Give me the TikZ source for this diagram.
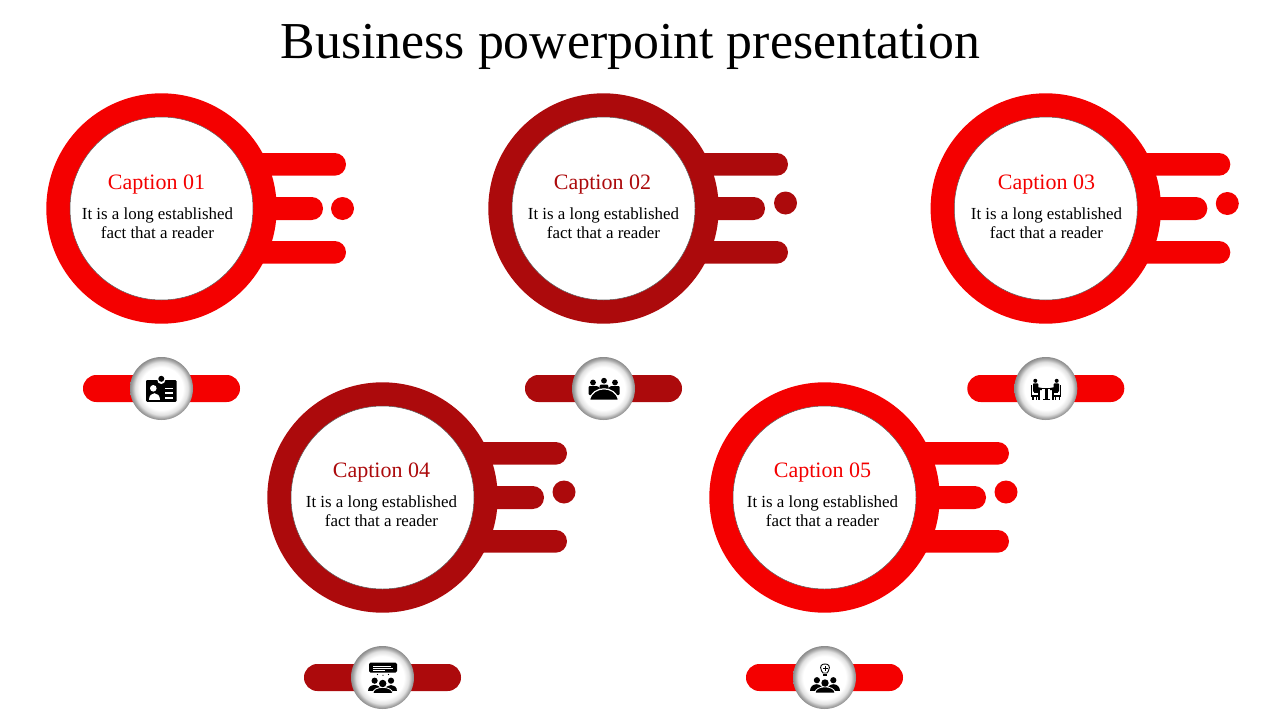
\documentclass[tikz,border=0pt]{standalone}
\usepackage{fontspec}
\setmainfont{Liberation Serif}
\definecolor{brightred}{RGB}{244,0,0}
\definecolor{deepred}{RGB}{172,10,12}
\pgfdeclareradialshading{btnshade}{\pgfpoint{0bp}{0bp}}{color(0bp)=(white); color(17bp)=(white); color(21bp)=(black!12); color(23.5bp)=(black!35); color(25bp)=(black!45); color(50bp)=(black!45)}
\tikzset{
  ringnode/.style={circle,draw=none,minimum size=230.4pt,inner sep=0pt},
  holenode/.style={circle,fill=white,draw=black!65,line width=.5pt,minimum size=183pt,inner sep=0pt},
  barshape/.style={rounded corners=11.3pt},
  dotnode/.style={circle,minimum size=23pt,inner sep=0pt},
  pillshape/.style={rounded corners=13.4pt},
  btnnode/.style={circle,minimum size=63pt,inner sep=0pt,shading=btnshade},
  captext/.style={font=\fontsize{22}{26}\selectfont,inner sep=0pt},
  bodytext/.style={font=\fontsize{16.9}{19}\selectfont,align=center,inner sep=0pt},
  titletext/.style={font=\fontsize{51.8}{60}\selectfont,inner sep=0pt,anchor=base}
}
% id, cx, cy, colour, dot offset, caption x, caption y, body x, body y (centre)
\newcommand{\blockunit}[9]{%
  \fill[#4,barshape] (#2+50,#3-55.5) rectangle (#2+184.5,#3-32.8);
  \fill[#4,barshape] (#2+50,#3-11.5) rectangle (#2+161.5,#3+11.5);
  \fill[#4,barshape] (#2+50,#3+32.5) rectangle (#2+184.5,#3+55.2);
  \node[ringnode,fill=#4] (ring#1) at (#2,#3) {};
  \node[holenode] (hole#1) at (#2,#3) {};
  \node[dotnode,fill=#4,shift={(#5)}] (dot#1) at (#2,#3) {};
  \node[captext,text=#4] (cap#1) at (#6,#7) {Caption 0#1};
  \node[bodytext] (body#1) at (#8,#9) {It is a long established\\fact that a reader};
  \fill[#4,pillshape] (#2-78.5,#3+166.5) rectangle (#2+78.5,#3+193.5);
  \node[btnnode] (btn#1) at (#2,#3+180) {};
}
% seated-group pictogram, origin at the middle head
\newcommand{\peoplegroup}{%
  \fill (-8.1,-2.8) circle (3.1);
  \fill (8.3,-2.8) circle (3.1);
  \fill (-14.6,7.6) .. controls (-14.6,-1) and (-2,-1) .. (-2,7.6) -- cycle;
  \fill (2,7.6) .. controls (2,-1) and (14.6,-1) .. (14.6,7.6) -- cycle;
  \filldraw[draw=white,line width=.8pt] (-10,10) .. controls (-10,1.8) and (10,1.8) .. (10,10) -- cycle;
  \fill (0,0) circle (3.7);
}
\begin{document}
\begin{tikzpicture}[x=1pt,y=-1pt]
\useasboundingbox (0,0) rectangle (1280,720);
\node[titletext] (title) at (630.5,58) {Business powerpoint presentation};
\blockunit{1}{161.5}{208.5}{brightred}{181,0}{156.5}{185}{157.5}{223.2}
\blockunit{2}{603.5}{208.5}{deepred}{182,-5.5}{602.5}{185}{603.5}{223.2}
\blockunit{3}{1045.8}{208.5}{brightred}{181.5,-5}{1046.5}{185}{1046.5}{223.2}
\blockunit{4}{382.5}{497.5}{deepred}{181.5,-5.5}{381.5}{473}{381.5}{511.2}
\blockunit{5}{824.5}{497.5}{brightred}{181.5,-5.5}{822.5}{473}{822.5}{511.2}
% icon 1: badge
\fill[black,rounded corners=1.2pt] (146,380) rectangle (176.7,401.8);
\fill[white] (161.3,380) circle (4);
\fill[black] (161.3,378.8) circle (3);
\fill[white] (153.3,388.3) circle (3.3);
\fill[white] (148.6,400) .. controls (148.6,390.5) and (159.8,390.5) .. (159.8,400) -- cycle;
\fill[white] (165,387.7) rectangle (173.4,389.1);
\fill[white] (165,392.4) rectangle (173.4,393.8);
\fill[white] (165,397.1) rectangle (173.4,398.5);
% icon 2: meeting table
\fill (593,382.5) circle (2.9);
\fill (604,380.7) circle (2.9);
\fill (615,382.5) circle (2.9);
\fill[rounded corners=1pt] (588.5,395) -- (588.5,386) -- (597.5,386) -- (599.5,388) -- (596,395) -- cycle;
\fill[rounded corners=1pt] (619.5,395) -- (619.5,386) -- (610.5,386) -- (608.5,388) -- (612,395) -- cycle;
\fill[rounded corners=1pt] (599,390) -- (600,384.5) -- (608,384.5) -- (609,390) -- cycle;
\filldraw[draw=white,line width=1.2pt] (589.5,400.3) .. controls (592,385) and (616,385) .. (618.5,400.3) -- cycle;
% icon 3: two people at a table
\fill (1035.3,380.8) circle (2);
\fill (1056.7,380.8) circle (2);
\fill[rounded corners=.8pt] (1033,383.3) rectangle (1038.3,392);
\fill[rounded corners=.8pt] (1053.7,383.3) rectangle (1059,392);
\fill (1036,386.8) -- (1041.8,388) -- (1041.8,390.2) -- (1036,390.2) -- cycle;
\fill (1056,386.8) -- (1050.2,388) -- (1050.2,390.2) -- (1056,390.2) -- cycle;
\fill (1034,390) rectangle (1040,392.6);
\fill (1052,390) rectangle (1058,392.6);
\fill (1037.8,392) rectangle (1039.6,400);
\fill (1052.4,392) rectangle (1054.2,400);
\fill (1031,385) rectangle (1032.3,396.6);
\fill (1059.7,385) rectangle (1061,396.6);
\fill (1031,394.6) rectangle (1038,396.6);
\fill (1054,394.6) rectangle (1061,396.6);
\fill (1032,396) rectangle (1033.5,400);
\fill (1035.6,396) rectangle (1037,400);
\fill (1055,396) rectangle (1056.4,400);
\fill (1058.5,396) rectangle (1060,400);
\fill (1041,387.7) rectangle (1052,389.4);
\fill (1045.3,389) rectangle (1047.7,399.3);
\fill (1043,398.8) rectangle (1050,400);
% icon 4: speech bubble over a group
\fill[rounded corners=1.5pt] (369,662.7) rectangle (397,672.7);
\fill[white] (373,665.6) rectangle (391,666.3);
\fill[white] (373,667.6) rectangle (393,668.3);
\fill[white] (373,669.6) rectangle (385,670.3);
\fill (377.5,674.5) circle (.7);
\fill (383,675.2) circle (.7);
\fill (388.5,674.5) circle (.7);
\begin{scope}[shift={(382.7,683.5)}]\peoplegroup\end{scope}
% icon 5: light bulb over a group
\draw[line width=.9pt] (821.6,671) .. controls (819,665.5) and (822,664) .. (825,664) .. controls (828,664) and (831,665.5) .. (828.4,671) -- (827,673) -- (823,673) -- cycle;
\fill (823,673.6) rectangle (827,676.4);
\fill (824.5,665.8) rectangle (825.5,670.8);
\fill (822.5,667.8) rectangle (827.5,668.8);
\begin{scope}[shift={(825,683)}]\peoplegroup\end{scope}
\end{tikzpicture}
\end{document}
